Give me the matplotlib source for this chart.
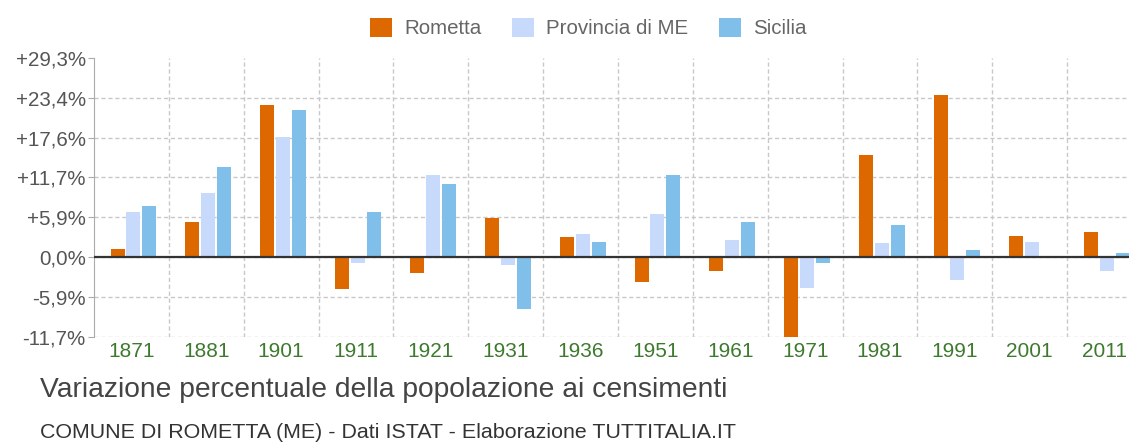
import numpy as np
import matplotlib.pyplot as plt

plt.rcParams['font.family'] = ['Liberation Sans', 'DejaVu Sans']

anni = ['1871', '1881', '1901', '1911', '1921', '1931', '1936',
        '1951', '1961', '1971', '1981', '1991', '2001', '2011']
rometta = [1.2, 5.2, 22.4, -4.7, -2.4, 5.8, 3.0, -3.6, -2.0, -11.7, 15.0, 23.8, 3.1, 3.7]
provincia = [6.6, 9.5, 17.7, -0.9, 12.1, -1.2, 3.4, 6.3, 2.5, -4.5, 2.1, -3.4, 2.2, -2.0]
sicilia = [7.5, 13.2, 21.6, 6.7, 10.7, -7.6, 2.2, 12.1, 5.1, -0.9, 4.7, 1.1, 0.0, 0.6]
serie = ['Rometta', 'Provincia di ME', 'Sicilia']
colori = ['#de6800', '#c8dafb', '#80bfea']

tick_val = [-11.72, -5.86, 0.0, 5.86, 11.72, 17.58, 23.44, 29.3]
tick_lab = ['-11,7%', '-5,9%', '0,0%', '+5,9%', '+11,7%', '+17,6%', '+23,4%', '+29,3%']

fig = plt.figure(figsize=(11.29, 4.44), dpi=100)
ax = fig.add_axes([94 / 1129, 107.3 / 444, 1048 / 1129, 278.7 / 444])

x = np.arange(len(anni))
w = 0.187
step = 0.213
for i, (vals, col, nome) in enumerate(zip([rometta, provincia, sicilia], colori, serie)):
    ax.bar(x + (i - 1) * step + 0.027, vals, width=w, color=col, label=nome,
           edgecolor='none', zorder=3)

ax.set_xlim(-0.5, len(anni) - 0.5)
ax.set_ylim(tick_val[0], tick_val[-1])

# griglia
for v in tick_val[:-1]:
    ax.axhline(v, color='#c8c8c8', lw=1, ls=(0, (3, 2)), zorder=1)
for b in np.arange(0.5, len(anni) - 0.5, 1):
    ax.axvline(b, color='#c8c8c8', lw=1, ls=(0, (3, 2)), zorder=1)
ax.axhline(0, color='#333333', lw=1.6, zorder=4)

ax.set_yticks(tick_val)
ax.set_yticklabels(tick_lab, fontsize=14.8, color='#555555')
ax.set_xticks(x)
ax.set_xticklabels(anni, fontsize=15, color='#3d7a2e')
ax.tick_params(axis='x', length=0, pad=4)
ax.tick_params(axis='y', length=4, color='#aaaaaa', pad=2)

for s in ['top', 'right', 'bottom']:
    ax.spines[s].set_visible(False)
ax.spines['left'].set_color('#aaaaaa')

fig.legend(loc='center', bbox_to_anchor=(0.521, 1 - 28 / 444), ncol=3, frameon=False,
           fontsize=14.8, labelcolor='#666666', handlelength=1.05, handleheight=1.05,
           columnspacing=1.5, handletextpad=0.6)

fig.text(40 / 1129, 1 - 390 / 444, 'Variazione percentuale della popolazione ai censimenti',
         fontsize=20.3, color='#444444', va='center')
fig.text(40 / 1129, 1 - 432 / 444, 'COMUNE DI ROMETTA (ME) - Dati ISTAT - Elaborazione TUTTITALIA.IT',
         fontsize=15.4, color='#333333', va='center')

fig.savefig('out.png', dpi=100)
